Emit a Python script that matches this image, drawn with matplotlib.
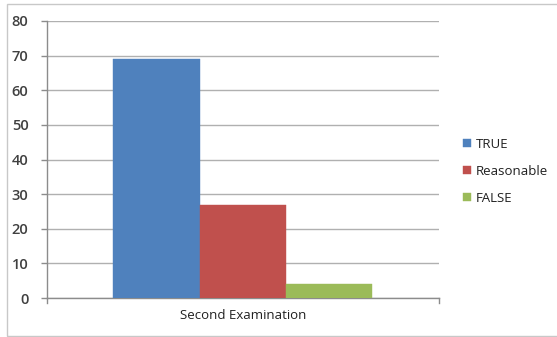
import matplotlib.pyplot as plt
from matplotlib.patches import Rectangle
import numpy as np

categories = ["Second Examination"]
series_names = ["TRUE", "Reasonable", "FALSE"]
series_values = [69, 27, 4]
series_colors = ["#4f81bd", "#c0504d", "#9bbb59"]
y_ticks = [0, 10, 20, 30, 40, 50, 60, 70, 80]

plt.rcParams['font.family'] = ['Open Sans', 'DejaVu Sans']

W, H = 557, 337
fig = plt.figure(figsize=(W / 100, H / 100), dpi=100)

# chart frame
fig.patches.append(Rectangle((7 / W, 1 - 335.5 / H), 1.2, (335.5 - 4) / H,
                             transform=fig.transFigure, fill=False,
                             edgecolor="#c8c8c8", linewidth=1.0))

x0, x1, ytop, ybot = 46.5, 439, 21, 298
ax = fig.add_axes([x0 / W, 1 - ybot / H, (x1 - x0) / W, (ybot - ytop) / H])

n = len(series_values)
bar_w = 0.22
offsets = (np.arange(n) - (n - 1) / 2) * bar_w
for off, val, col, name in zip(offsets, series_values, series_colors, series_names):
    ax.bar(0 + off, val, width=bar_w, color=col, label=name, zorder=3,
           edgecolor=col, linewidth=0.3)

ax.set_xlim(-0.5, 0.5)
ax.set_ylim(0, 80)
ax.set_yticks(y_ticks)
ax.set_yticklabels([str(t) for t in y_ticks], fontsize=10.5, color="#404040",
                   fontweight="semibold")
ax.set_xticks([0])
ax.set_xticklabels(categories, fontsize=9.5, color="#202020")
ax.tick_params(axis="x", length=0, pad=8)
ax.tick_params(axis="y", length=4, width=1, color="#8c8c8c", pad=9)

ax.yaxis.grid(True, color="#b0b0b0", linewidth=1.0, zorder=0)
for s in ["top", "right"]:
    ax.spines[s].set_visible(False)
for s in ["left", "bottom"]:
    ax.spines[s].set_color("#8c8c8c")
    ax.spines[s].set_linewidth(1.0)

# end ticks on the category axis
for xe in (-0.5, 0.5):
    ax.plot([xe, xe], [0, -1.5], color="#8c8c8c", linewidth=1.0,
            clip_on=False, zorder=4)

leg = fig.legend(loc="upper left", bbox_to_anchor=(451 / W, 1 - 126 / H),
                 frameon=False, fontsize=9.5, handlelength=0.6,
                 handleheight=0.6, handletextpad=0.4, labelspacing=1.05)
for t in leg.get_texts():
    t.set_color("#202020")

fig.savefig("out.png", dpi=100)
